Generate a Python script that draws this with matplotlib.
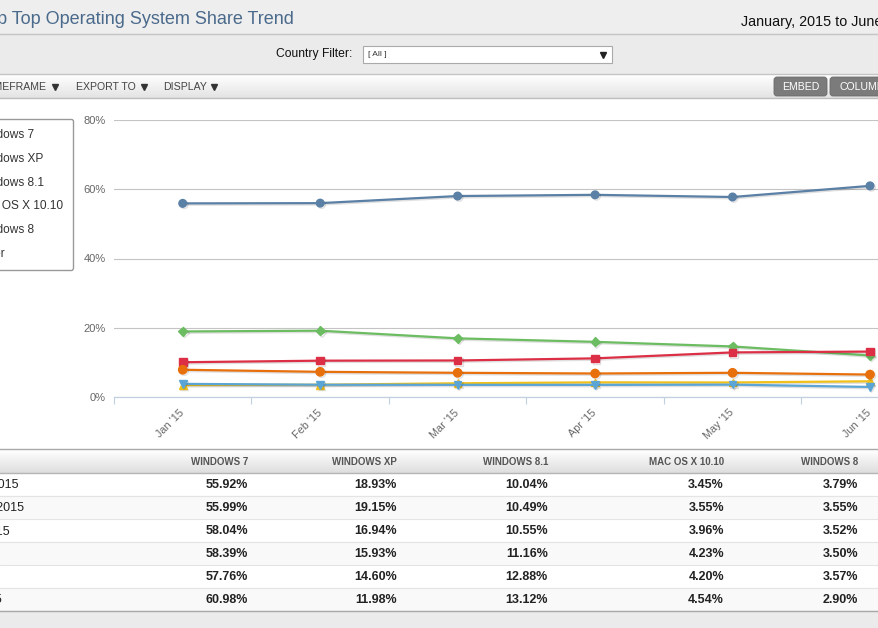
import numpy as np
import matplotlib
matplotlib.use('Agg')
import matplotlib.pyplot as plt
from matplotlib.patches import Rectangle, FancyBboxPatch
from matplotlib.colors import LinearSegmentedColormap
import matplotlib.patheffects as pe

plt.rcParams['font.family'] = ['Liberation Sans', 'DejaVu Sans']

# data read from the page
months = ["Jan '15", "Feb '15", "Mar '15", "Apr '15", "May '15", "Jun '15"]
row_labels = ["January, 2015", "February, 2015", "March, 2015",
              "April, 2015", "May, 2015", "June, 2015"]
series_names = ["Windows 7", "Windows XP", "Windows 8.1", "Mac OS X 10.10", "Windows 8", "Other"]
win7 = [55.92, 55.99, 58.04, 58.39, 57.76, 60.98]
winxp = [18.93, 19.15, 16.94, 15.93, 14.60, 11.98]
win81 = [10.04, 10.49, 10.55, 11.16, 12.88, 13.12]
mac1010 = [3.45, 3.55, 3.96, 4.23, 4.20, 4.54]
win8 = [3.79, 3.55, 3.52, 3.50, 3.57, 2.90]
other = [7.87, 7.27, 6.99, 6.79, 6.99, 6.48]
table_cols = ["WINDOWS 7", "WINDOWS XP", "WINDOWS 8.1", "MAC OS X 10.10", "WINDOWS 8"]
yticks = [0, 20, 40, 60, 80]

colors = ['#5b80a6', '#6cbd62', '#dc2f45', '#f0c11b', '#5aa5d6', '#e8700c']
markers = ['o', 'D', 's', '^', 'v', 'o']
msizes = [5.5, 4.5, 5.5, 5.5, 5.5, 6]

W, H = 879, 628
fig = plt.figure(figsize=(W / 100, H / 100), dpi=100)

# page background, pixel coordinates
bg = fig.add_axes([0, 0, 1, 1], zorder=0)
bg.axis('off')


def grad(ax, x0, x1, y0, y1, c0, c1):
    cm = LinearSegmentedColormap.from_list('g', [c0, c1])
    ax.imshow(np.linspace(0, 1, 64).reshape(-1, 1), cmap=cm, aspect='auto',
              extent=(x0, x1, y1, y0), origin='upper', zorder=1)


bg.add_patch(Rectangle((0, 0), W, 34, color='#eeeeee', zorder=0))
bg.add_patch(Rectangle((0, 34), W, 40, color='#ebebeb', zorder=0))
grad(bg, 0, W, 75, 98, '#ffffff', '#e3e3e3')
bg.add_patch(Rectangle((0, 98), W, 350, color='white', zorder=0))
grad(bg, 0, W, 450, 473, '#ffffff', '#dedede')
for i in range(6):
    bg.add_patch(Rectangle((0, 473 + 23 * i), W, 23,
                           color='white' if i % 2 == 0 else '#f9f9f9', zorder=0))
bg.add_patch(Rectangle((0, 611), W, 17, color='#ebebeb', zorder=0))

for yy, c in [(34, '#c4c4c4'), (74, '#c4c4c4'), (98, '#bdbdbd'), (449, '#a8a8a8'),
              (473, '#b5b5b5'), (611, '#a8a8a8')]:
    bg.plot([0, W], [yy, yy], color=c, lw=1, zorder=3)
for i in range(1, 6):
    bg.plot([0, W], [473 + 23 * i] * 2, color='#e4e4e4', lw=0.8, zorder=3)

# header texts
bg.text(294, 19, "Desktop Top Operating System Share Trend", ha='right', va='center',
        fontsize=13, color='#4a6a8c', zorder=4)
bg.text(741, 22, "January, 2015 to June, 2015", ha='left', va='center',
        fontsize=10.4, color='#111111', zorder=4)
bg.text(352, 54, "Country Filter:", ha='right', va='center', fontsize=8.7,
        color='#111111', zorder=4)
bg.add_patch(Rectangle((363, 46), 249, 17, facecolor='white', edgecolor='#aaaaaa',
                       lw=0.8, zorder=3))
bg.text(368, 55, "[ All ]", ha='left', va='center', fontsize=6, color='#333333', zorder=4)
bg.plot([603], [54.5], marker='v', ms=3.8, color='#222222', zorder=4)

# toolbar
bg.text(47, 86.5, "TIMEFRAME", ha='right', va='center', fontsize=7.6, color='#444444', zorder=4)
bg.text(76, 86.5, "EXPORT TO", ha='left', va='center', fontsize=7.6, color='#444444', zorder=4)
bg.text(163, 86.5, "DISPLAY", ha='left', va='center', fontsize=7.6, color='#444444', zorder=4)
for tx in [55, 144, 214]:
    bg.plot([tx], [86.5], marker='v', ms=3.8, color='#333333', zorder=4)
bg.add_patch(FancyBboxPatch((774, 77), 53, 19, boxstyle='round,pad=0,rounding_size=3',
                            facecolor='#7b7b7b', edgecolor='#6a6a6a', lw=0.6, zorder=3))
bg.add_patch(FancyBboxPatch((830, 77), 80, 19, boxstyle='round,pad=0,rounding_size=3',
                            facecolor='#7b7b7b', edgecolor='#6a6a6a', lw=0.6, zorder=3))
bg.text(800.5, 87, "EMBED", ha='center', va='center', fontsize=7.6, color='white', zorder=4)
bg.text(840, 87, "COLUMNS", ha='left', va='center', fontsize=7.6, color='white', zorder=4)

# table
col_right = [248, 397, 548, 724, 858]
table_vals = [win7, winxp, win81, mac1010, win8]
for name, xr in zip(table_cols, col_right):
    bg.text(xr, 462, name, ha='right', va='center', fontsize=7, fontweight='bold',
            color='#555555', zorder=4)
for i, lab in enumerate(row_labels):
    yy = 485 + 23 * i
    bg.text(-60, yy, lab, ha='left', va='center', fontsize=9, color='#222222', zorder=4)
    for vals, xr in zip(table_vals, col_right):
        bg.text(xr, yy, '%.2f%%' % vals[i], ha='right', va='center', fontsize=9,
                fontweight='bold', color='#222222', zorder=4)

bg.set_xlim(0, W)
bg.set_ylim(H, 0)

# chart
x0, x1 = 114, 879
yb, yt = 397, 120
ax = fig.add_axes([x0 / W, 1 - yb / H, (x1 - x0) / W, (yb - yt) / H], zorder=2)
ax.patch.set_alpha(0)
x = np.arange(len(months))
handles = []
for vals, name, c, m, ms in zip([win7, winxp, win81, mac1010, win8, other],
                                series_names, colors, markers, msizes):
    ln, = ax.plot(x, vals, color=c, lw=1.6, marker=m, ms=ms, mec=c, clip_on=False,
                  path_effects=[pe.SimpleLineShadow(offset=(1, -1), alpha=0.12),
                                pe.Normal()], zorder=3)
    handles.append(ln)

ax.set_yticks(yticks)
ax.set_yticklabels(['%d%%' % v for v in yticks])
ax.set_xticks(x)
ax.set_xticklabels(months, rotation=45, ha='right', va='center', rotation_mode='anchor')
ax.set_xticks(np.arange(-0.5, 5, 1), minor=True)
ax.set_xlim(-0.5, (x1 - 182) / 137.6)
ax.set_ylim(0, 80)
ax.tick_params(axis='x', which='major', length=0, pad=10, labelsize=7.8, labelcolor='#666666')
ax.tick_params(axis='x', which='minor', length=5, width=0.8, color='#c0d0e0')
ax.tick_params(axis='y', length=0, pad=6, labelsize=8, labelcolor='#666666')
ax.grid(axis='y', color='#c4c4c4', lw=0.8)
for s in ['top', 'right', 'left']:
    ax.spines[s].set_visible(False)
ax.spines['bottom'].set_color('#c0d0e0')
ax.spines['bottom'].set_linewidth(0.9)

fig.legend(handles, series_names, loc='upper right', bbox_to_anchor=(73 / W, 1 - 119 / H),
           bbox_transform=fig.transFigure, fontsize=8.6, labelspacing=0.98,
           borderpad=0.85, borderaxespad=0, handlelength=2.2, handletextpad=0.6,
           fancybox=True, edgecolor='#999999', facecolor='white', framealpha=1,
           labelcolor='#333333')

fig.savefig('out.png', dpi=100)
